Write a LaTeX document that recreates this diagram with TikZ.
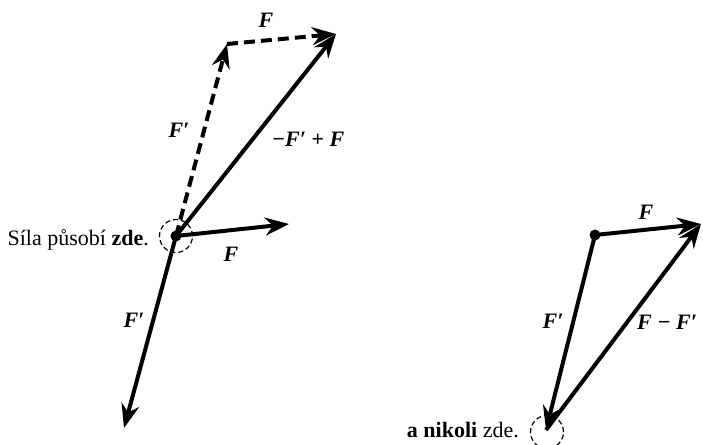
\documentclass[tikz,border=0pt]{standalone}
\usepackage{fontspec}
\setmainfont{Liberation Serif}
\usetikzlibrary{arrows.meta}
\begin{document}
\begin{tikzpicture}[x=1pt,y=-1pt,
 vec/.style={line width=4pt, -{Stealth[length=24pt,width=18pt,inset=8pt]}},
 dvec/.style={vec, dash pattern=on 11pt off 6pt},
 lbl/.style={font=\fontsize{22}{26}\selectfont\bfseries\itshape, inner sep=0pt},
 txt/.style={font=\fontsize{22}{26}\selectfont, inner sep=0pt},
 ring/.style={draw, line width=1.2pt, dash pattern=on 5pt off 3pt, circle, minimum size=33pt, inner sep=0pt},
 dot/.style={circle, fill, minimum size=11pt, inner sep=0pt}]
\useasboundingbox (0,0) rectangle (703,444);
% left figure
\coordinate (P) at (176,236);
\coordinate (A) at (289,224);
\coordinate (B) at (124,428);
\coordinate (C) at (227,44);
\coordinate (D) at (336,34);
\draw[dvec] (P) -- (C);
\draw[dvec] (C) -- (D);
\draw[vec] (P) -- (D);
\draw[vec] (P) -- (A);
\draw[vec] (P) -- (B);
\node[dot] (Pd) at (P) {};
\node[ring] (Pr) at (P) {};
\node[txt, anchor=base east] (t1) at (149,245) {Síla působí \textbf{zde}.};
\node[lbl] (l1) at (266,20) {F};
\node[lbl] (l2) at (179,130) {F′};
\node[lbl] (l3) at (308,139) {−F′ + F};
\node[lbl] (l4) at (231,254) {F};
\node[lbl] (l5) at (134,320) {F′};
% right figure
\coordinate (Q) at (595,235);
\coordinate (E) at (701,224);
\coordinate (G) at (546,430);
\draw[vec] (Q) -- (E);
\draw[vec] (Q) -- (G);
\draw[vec] (G) -- (E);
\node[dot] (Qd) at (Q) {};
\node[ring] (Gr) at (547,432) {};
\node[txt, anchor=base east] (t2) at (519,437) {\textbf{a nikoli} zde.};
\node[lbl] (l6) at (646,212) {F};
\node[lbl] (l7) at (553,321) {F′};
\node[lbl, anchor=west] (l8) at (637,322) {F − F′};
\end{tikzpicture}
\end{document}
